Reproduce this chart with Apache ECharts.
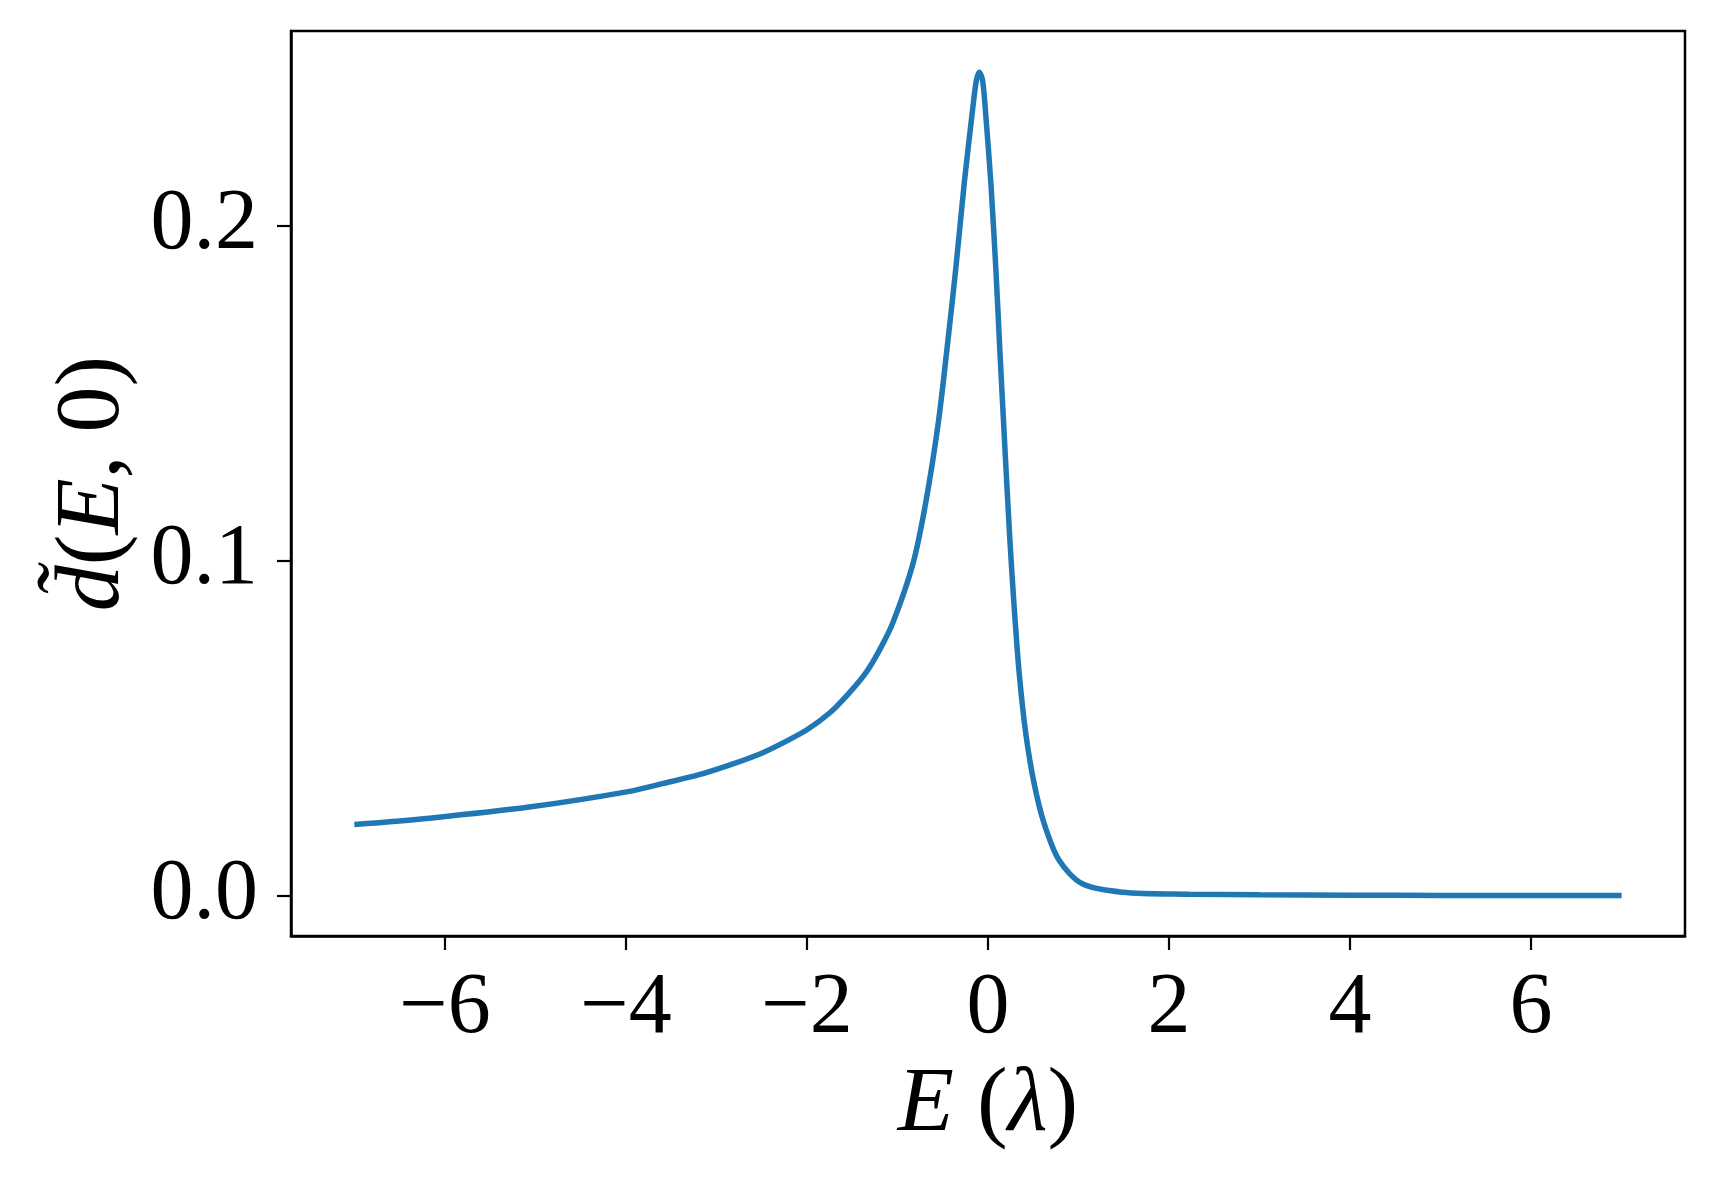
<!DOCTYPE html>
<html>
<head>
<meta charset="utf-8">
<script src="https://cdn.jsdelivr.net/npm/echarts@6/dist/echarts.min.js"></script>
<style>
html,body{margin:0;padding:0;background:#fff;}
#main{width:1716px;height:1184px;}
</style>
</head>
<body>
<div id="main"></div>
<script>
// Energy values E (λ)
const energies = [-7.0, -6.17, -5.07, -3.96, -3.6, -3.2, -2.85, -2.5, -2.27, -2.0, -1.75, -1.55, -1.35, -1.2, -1.05, -0.83, -0.69, -0.55, -0.45, -0.354, -0.263, -0.171, -0.13, -0.097, -0.06, -0.023, 0.032, 0.087, 0.131, 0.19, 0.242, 0.289, 0.345, 0.418, 0.51, 0.62, 0.786, 1.043, 1.485, 2.22, 3.0, 4.0, 5.0, 6.0, 7.0];
// d~(E, 0) values
const dValues = [0.0212, 0.0231, 0.0264, 0.0311, 0.0334, 0.0360, 0.0390, 0.0425, 0.0455, 0.0495, 0.0545, 0.0600, 0.0665, 0.0732, 0.0815, 0.0990, 0.1170, 0.1410, 0.1640, 0.1877, 0.2126, 0.2345, 0.2432, 0.2459, 0.2435, 0.2325, 0.2126, 0.1870, 0.1628, 0.1320, 0.1061, 0.0862, 0.0663, 0.0483, 0.0334, 0.0215, 0.0105, 0.0035, 0.0010, 0.0004, 0.0002, 0.0001, 0.0, 0.0, 0.0];
// Tick values
const xTicks = [-6, -4, -2, 0, 2, 4, 6];
const yTicks = [0.0, 0.1, 0.2];

const seriesData = energies.map((e, i) => [e, dValues[i]]);
const serif = '"Liberation Serif", "DejaVu Serif", serif';

const chart = echarts.init(document.getElementById('main'), null, {renderer: 'canvas'});
chart.setOption({
  animation: false,
  backgroundColor: '#ffffff',
  grid: {
    left: 291, right: 31, top: 31, bottom: 248,
    show: true, borderColor: '#000', borderWidth: 2.5, backgroundColor: 'transparent'
  },
  xAxis: {
    type: 'value',
    min: -7.7, max: 7.7,
    name: '{it|E}{rm| (}{it|λ}{rm|)}',
    nameLocation: 'middle',
    nameGap: 124,
    nameTextStyle: {
      rich: {
        it: {fontFamily: serif, fontStyle: 'italic', fontSize: 92, color: '#000'},
        rm: {fontFamily: serif, fontSize: 92, color: '#000'}
      }
    },
    axisLine: {show: true, onZero: false, lineStyle: {color: '#000', width: 2.5}},
    axisTick: {show: true, customValues: xTicks, length: 14, lineStyle: {color: '#000', width: 2.2}},
    axisLabel: {
      customValues: xTicks,
      margin: 30,
      fontFamily: serif, fontSize: 86, color: '#000',
      formatter: v => (v < 0 ? '\u2212' + Math.abs(v) : String(v))
    },
    splitLine: {show: false}
  },
  yAxis: {
    type: 'value',
    min: -0.0121, max: 0.2582,
    name: '{it|d\u0303}{rm|(}{it|E}{rm|, 0)}',
    nameLocation: 'middle',
    nameGap: 149,
    nameRotate: 90,
    nameTextStyle: {
      rich: {
        it: {fontFamily: serif, fontStyle: 'italic', fontSize: 92, color: '#000'},
        rm: {fontFamily: serif, fontSize: 92, color: '#000'}
      }
    },
    axisLine: {show: true, onZero: false, lineStyle: {color: '#000', width: 2.5}},
    axisTick: {show: true, customValues: yTicks, length: 14, lineStyle: {color: '#000', width: 2.2}},
    axisLabel: {
      customValues: yTicks,
      margin: 33,
      fontFamily: serif, fontSize: 86, color: '#000',
      formatter: v => v.toFixed(1)
    },
    splitLine: {show: false}
  },
  series: [{
    type: 'line',
    data: seriesData,
    smooth: 0.3,
    showSymbol: false,
    lineStyle: {color: '#1f77b4', width: 5.5},
    itemStyle: {color: '#1f77b4'}
  }]
});
</script>
</body>
</html>
